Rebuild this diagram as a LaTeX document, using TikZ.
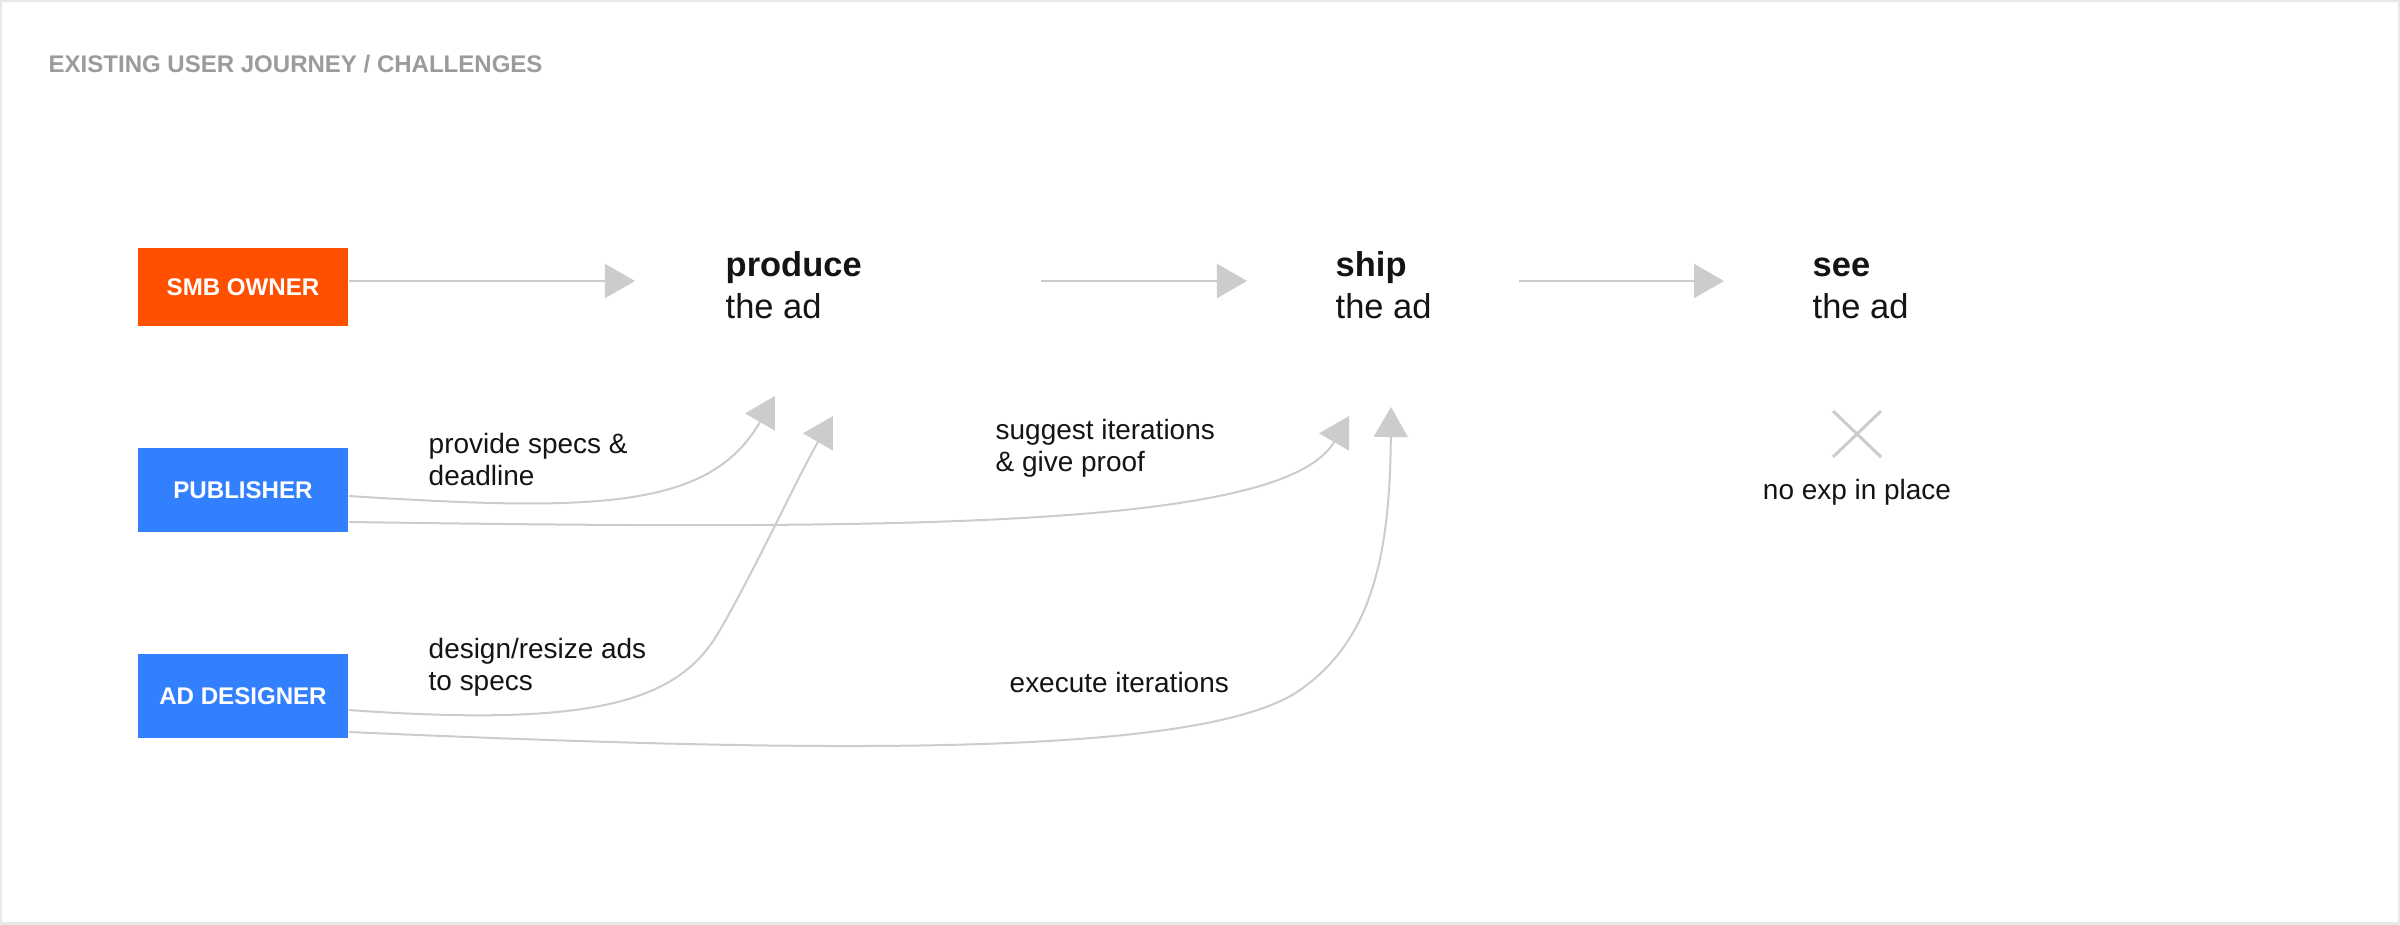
\documentclass[tikz,border=0pt]{standalone}
\usepackage{fontspec}
\setmainfont{Liberation Sans}
\usetikzlibrary{arrows.meta, calc, positioning}

\definecolor{smborange}{RGB}{255,80,0}
\definecolor{roleblue}{RGB}{51,128,255}
\definecolor{flowgrey}{RGB}{204,204,204}
\definecolor{titlegrey}{RGB}{155,155,155}
\definecolor{framegrey}{RGB}{232,232,232}
\definecolor{inkblack}{RGB}{20,20,20}

\begin{document}
\begin{tikzpicture}[x=0.01cm, y=-0.01cm,
  role/.style={minimum width=2.1cm, minimum height=0.84cm, inner sep=0pt,
    text=white, font=\fontsize{6.85}{8}\selectfont\bfseries},
  stepname/.style={anchor=base west, inner sep=0pt, align=left, text=inkblack,
    font=\fontsize{9.8}{11.67}\selectfont},
  note/.style={anchor=base west, inner sep=0pt, align=left, text=inkblack,
    font=\fontsize{7.95}{9.1}\selectfont},
  flow/.style={color=flowgrey, line width=0.02cm,
    -{Triangle[length=0.3cm, width=0.34cm]}}]
% Page and frame
\useasboundingbox (0,0) rectangle (2400,924);
\fill[white] (0,0) rectangle (2400,924);
\draw[framegrey, line width=0.04cm] (0,0) rectangle (2400,924);
% Title
\node[anchor=base west, inner sep=0pt, text=titlegrey,
  font=\fontsize{6.83}{8}\selectfont\bfseries] (title) at (48,72)
  {EXISTING USER JOURNEY / CHALLENGES};
% Roles
\node[role, fill=smborange, minimum height=0.78cm] (smb) at (243,287) {SMB OWNER};
\node[role, fill=roleblue] (pub) at (243,490) {PUBLISHER};
\node[role, fill=roleblue] (designer) at (243,696) {AD DESIGNER};
% Steps (base is the last line)
\node[stepname] (produce) at (725,318) {\textbf{produce}\\the ad};
\node[stepname] (ship) at (1335,318) {\textbf{ship}\\the ad};
\node[stepname] (see) at (1812,318) {\textbf{see}\\the ad};
% Arrow ends
\coordinate (produce-in) at (635,281);
\coordinate (produce-out) at (1041,281);
\coordinate (ship-in) at (1247,281);
\coordinate (ship-out) at (1519,281);
\coordinate (see-in) at (1724,281);
\coordinate (produce-tipa) at (775,396);
\coordinate (produce-tipb) at (833,416);
\coordinate (ship-tipa) at (1349,416);
\coordinate (ship-tipb) at (1391,407);
% Draw main flow
\draw[flow] ($(smb.east)+(0,-6)$) -- (produce-in);
\draw[flow] (produce-out) -- (ship-in);
\draw[flow] (ship-out) -- (see-in);
% Draw support from publisher
\draw[flow] ($(pub.east)+(0,6)$) .. controls (600,512) and (710,508.6) .. (produce-tipa);
\draw[flow] ($(pub.east)+(0,32)$) .. controls (900,530) and (1284,529) .. (ship-tipa);
% Draw support from designer
\draw[flow] ($(designer.east)+(0,14)$) .. controls (600,728) and (680,700) .. (720,630)
  .. controls (760,560) and (796,480) .. (produce-tipb);
\draw[flow] ($(designer.east)+(0,36)$) .. controls (800,752) and (1200,760) .. (1300,690)
  .. controls (1370,641) and (1390,560) .. (ship-tipb);
% Labels
\node[note] (specs) at (428,485) {provide specs \&\\deadline};
\node[note] (resize) at (428,690) {design/resize ads\\to specs};
\node[note] (suggest) at (995,471) {suggest iterations\\\& give proof};
\node[note] (execute) at (1009,692) {execute iterations};
% No experience mark
\draw[flowgrey, line width=0.03cm] (1833,411) -- (1881,457) (1833,457) -- (1881,411);
\node[note, anchor=base] (noexp) at (1857,499) {no exp in place};
\end{tikzpicture}
\end{document}
